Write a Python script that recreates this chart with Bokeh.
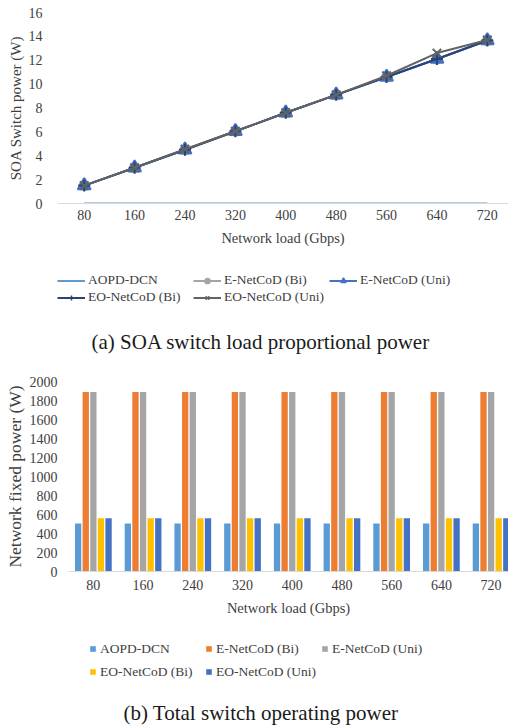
import math
from bokeh.plotting import figure
from bokeh.models import Range1d, FixedTicker, Legend, LegendItem, Label
from bokeh.layouts import column
from bokeh.embed import file_html
from bokeh.resources import INLINE

FONT = "Liberation Serif"
TXT = "#404040"
CAP = "#1a1a1a"

loads = ["80", "160", "240", "320", "400", "480", "560", "640", "720"]
series_names = ["AOPD-DCN", "E-NetCoD (Bi)", "E-NetCoD (Uni)", "EO-NetCoD (Bi)", "EO-NetCoD (Uni)"]

# (a) SOA switch load proportional power (W)
soa_aopd = [0.0, 0.0, 0.0, 0.0, 0.0, 0.0, 0.0, 0.0, 0.0]
soa_e_bi = [1.5, 3.0, 4.5, 6.05, 7.6, 9.1, 10.6, 12.1, 13.65]
soa_e_uni = [1.5, 3.0, 4.5, 6.05, 7.6, 9.1, 10.6, 12.1, 13.65]
soa_eo_bi = [1.5, 3.0, 4.5, 6.05, 7.6, 9.1, 10.6, 12.1, 13.65]
soa_eo_uni = [1.5, 3.0, 4.55, 6.05, 7.6, 9.1, 10.7, 12.6, 13.7]
soa_ticks = [0, 2, 4, 6, 8, 10, 12, 14, 16]

# (b) Total switch operating power (W)
fixed_aopd = [505, 505, 505, 505, 505, 505, 505, 505, 505]
fixed_e_bi = [1890, 1890, 1890, 1890, 1890, 1890, 1890, 1890, 1890]
fixed_e_uni = [1890, 1890, 1890, 1890, 1890, 1890, 1890, 1890, 1890]
fixed_eo_bi = [560, 560, 560, 560, 560, 560, 560, 560, 560]
fixed_eo_uni = [560, 560, 560, 560, 560, 560, 560, 560, 560]
fixed_ticks = [0, 200, 400, 600, 800, 1000, 1200, 1400, 1600, 1800, 2000]

xpos = list(range(1, len(loads) + 1))
overrides = {i: lab for i, lab in zip(xpos, loads)}


def style(p, yticks, xstand, xlab_stand, ystand, ylab_stand, ylab_size):
    p.outline_line_color = None
    p.grid.visible = False
    p.xaxis.ticker = FixedTicker(ticks=xpos)
    p.xaxis.major_label_overrides = overrides
    p.yaxis.ticker = FixedTicker(ticks=yticks)
    for ax in (p.xaxis, p.yaxis):
        ax.major_tick_line_color = None
        ax.minor_tick_line_color = None
        ax.major_tick_out = 0
        ax.major_tick_in = 0
        ax.minor_tick_out = 0
        ax.major_label_text_font = FONT
        ax.major_label_text_font_size = "14px"
        ax.major_label_text_color = TXT
        ax.axis_label_text_font = FONT
        ax.axis_label_text_font_style = "normal"
        ax.axis_label_text_color = TXT
    p.xaxis.axis_label_text_font_size = "14.5px"
    p.yaxis.axis_label_text_font_size = ylab_size
    p.yaxis.axis_line_color = None
    p.xaxis.axis_line_color = "#D9D9D9"
    p.xaxis.axis_line_width = 1
    p.xaxis.major_label_standoff = xstand
    p.xaxis.axis_label_standoff = xlab_stand
    p.yaxis.major_label_standoff = ystand
    p.yaxis.axis_label_standoff = ylab_stand
    p.xaxis.axis_label = "Network load (Gbps)"


def footer(height):
    # legend / caption strip; its ranges keep the proxy renderers out of view
    f = figure(width=508, height=height, x_range=Range1d(-100, -99), y_range=Range1d(-100, -99),
               output_backend="svg", toolbar_location=None, frame_align=False,
               min_border=0)
    f.axis.visible = False
    f.grid.visible = False
    f.outline_line_color = None
    return f


# ---------------- (a) line chart ----------------
p1 = figure(width=508, height=250, x_range=Range1d(0.47, 9.42), y_range=Range1d(0, 16),
            output_backend="svg", toolbar_location=None, frame_align=False,
            min_border_left=57, min_border_right=0, min_border_top=12, min_border_bottom=47)
style(p1, soa_ticks, 6, 7, 15, 2, "15px")
p1.yaxis.axis_label = "SOA Switch power (W)"

f1 = footer(110)

line_specs = [
    (soa_aopd, "#5B9BD5", None, 0),
    (soa_e_bi, "#A5A5A5", "circle", 9),
    (soa_e_uni, "#4472C4", "triangle", 13),
    (soa_eo_bi, "#264478", "cross", 12),
    (soa_eo_uni, "#636363", "x", 12),
]
items1 = []
for name, (vals, col, mk, sz) in zip(series_names, line_specs):
    p1.line(xpos, vals, line_color=col, line_width=2)
    rs = [f1.line(xpos, vals, line_color=col, line_width=2)]
    if mk is not None:
        p1.scatter(xpos, vals, marker=mk, size=sz, fill_color=col, line_color=col, line_width=2)
        rs.append(f1.scatter(xpos, vals, marker=mk, size=sz - 3, fill_color=col,
                             line_color=col, line_width=1.5))
    items1.append(LegendItem(label=name, renderers=rs))

leg1 = Legend(items=items1, orientation="horizontal", ncols=3, location=(57, 55),
              margin=0, padding=0, spacing=1, glyph_width=28, glyph_height=13,
              label_height=13, label_width=104, label_standoff=3,
              label_text_font=FONT, label_text_font_size="13.5px", label_text_color=TXT,
              border_line_color=None, background_fill_alpha=0)
f1.add_layout(leg1, "center")
f1.add_layout(Label(text="(a) SOA switch load proportional power", x=91, y=19,
                    x_units="screen", y_units="screen", text_baseline="middle",
                    text_font=FONT, text_font_size="21px", text_color=CAP))

# ---------------- (b) bar chart ----------------
p2 = figure(width=508, height=260, x_range=Range1d(0.5, 9.35), y_range=Range1d(0, 2000),
            output_backend="svg", toolbar_location=None, frame_align=False,
            min_border_left=68, min_border_right=0, min_border_top=21, min_border_bottom=49)
style(p2, fixed_ticks, 8, 7, 11, 2, "17.5px")
p2.yaxis.axis_label = "Network fixed power (W)"

f2 = footer(106)

bar_specs = [
    (fixed_aopd, "#5B9BD5"),
    (fixed_e_bi, "#ED7D31"),
    (fixed_e_uni, "#A5A5A5"),
    (fixed_eo_bi, "#FFC000"),
    (fixed_eo_uni, "#4472C4"),
]
pitch = 0.153
bw = 0.127
items2 = []
for k, (name, (vals, col)) in enumerate(zip(series_names, bar_specs)):
    xs = [xv + (k - 2) * pitch for xv in xpos]
    p2.vbar(x=xs, top=vals, width=bw, fill_color=col, line_color=None)
    r = f2.vbar(x=xs, top=vals, width=bw, fill_color=col, line_color=None)
    items2.append(LegendItem(label=name, renderers=[r]))

leg2 = Legend(items=items2, orientation="horizontal", ncols=3, location=(89, 44),
              margin=0, padding=0, spacing=2, glyph_width=7, glyph_height=7,
              label_height=21, label_width=103, label_standoff=4,
              label_text_font=FONT, label_text_font_size="13.5px", label_text_color=TXT,
              border_line_color=None, background_fill_alpha=0)
f2.add_layout(leg2, "center")
f2.add_layout(Label(text="(b) Total switch operating power", x=123, y=14,
                    x_units="screen", y_units="screen", text_baseline="middle",
                    text_font=FONT, text_font_size="21px", text_color=CAP))

layout = column(p1, f1, p2, f2, spacing=0)
open("out.html", "w").write(file_html(layout, INLINE))
